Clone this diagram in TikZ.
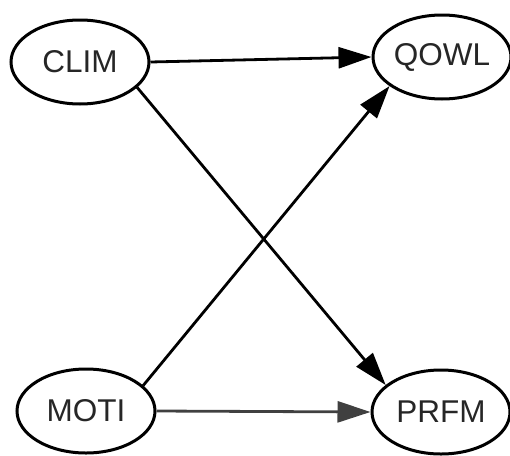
\documentclass[tikz,border=0pt]{standalone}
\usepackage{fontspec}
\setmainfont{Liberation Sans}
\usetikzlibrary{shapes.geometric,arrows.meta}
\begin{document}
\begin{tikzpicture}[x=1pt,y=-1pt,
  var/.style={draw=black, line width=3pt, ellipse, inner sep=0pt,
    minimum width=138pt, minimum height=84pt, text=black!85,
    font=\fontsize{31.5}{33}\selectfont},
  link/.style={line width=2.8pt, draw=black,
    -{Triangle[length=33pt,width=21pt]}}]
  \useasboundingbox (0,0) rectangle (510,455);
  \node[var] (CLIM) at (80,62) {CLIM};
  \node[var] (QOWL) at (442,57) {QOWL};
  \node[var] (MOTI) at (86,411) {MOTI};
  \node[var] (PRFM) at (441,412) {PRFM};
  \draw[link] (CLIM.east) -- (QOWL.west);
  \draw[link] (CLIM.-24) -- (PRFM.154);
  \draw[link] (MOTI.24) -- (QOWL.209);
  \draw[link, draw=black!75, fill=black!75] (MOTI.east) -- (PRFM.west);
\end{tikzpicture}
\end{document}
